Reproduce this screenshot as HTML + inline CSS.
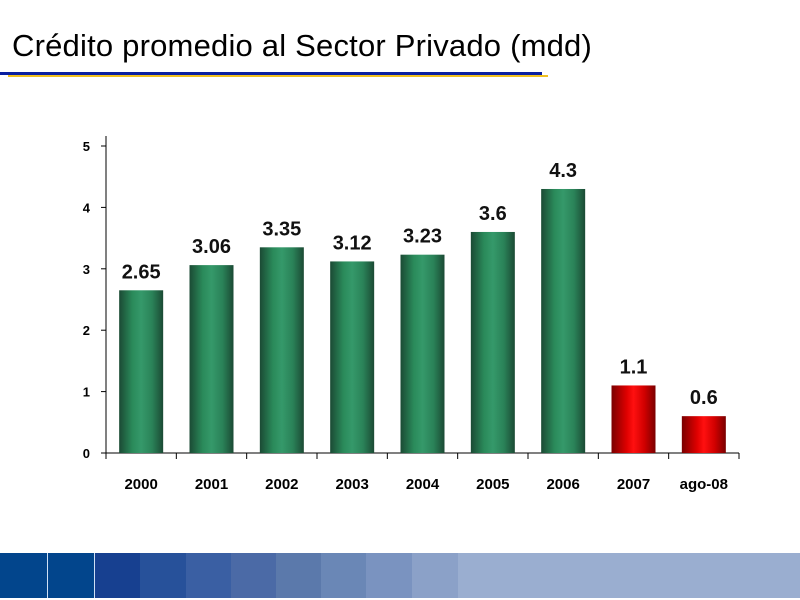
<!DOCTYPE html>
<html><head><meta charset="utf-8"><style>
body{margin:0;width:800px;height:600px;background:#fff;overflow:hidden;position:relative;font-family:"Liberation Sans",sans-serif}
#title{position:absolute;left:12px;top:28px;font-size:31px;color:#000;white-space:nowrap;letter-spacing:0.2px}
</style></head><body>
<div id="title">Crédito promedio al Sector Privado (mdd)</div>
<div style="position:absolute;left:0;top:72px;width:542px;height:3px;background:#0a1fa0"></div>
<div style="position:absolute;left:8px;top:75px;width:540px;height:2px;background:#f0c020"></div>
<svg id="chart" width="800" height="600" style="position:absolute;left:0;top:0">
<defs>
<linearGradient id="gg" x1="0" x2="1" y1="0" y2="0">
<stop offset="0" stop-color="#1b4a34"/><stop offset="0.3" stop-color="#2a8a5a"/><stop offset="0.5" stop-color="#35996a"/><stop offset="0.75" stop-color="#2a8258"/><stop offset="1" stop-color="#1b4a34"/>
</linearGradient>
<linearGradient id="gr" x1="0" x2="1" y1="0" y2="0">
<stop offset="0" stop-color="#7a0000"/><stop offset="0.35" stop-color="#e00000"/><stop offset="0.5" stop-color="#ff1010"/><stop offset="0.75" stop-color="#d00000"/><stop offset="1" stop-color="#7a0000"/>
</linearGradient>
</defs>
</svg>
<div id="band"></div>
<script>
const categories=["2000","2001","2002","2003","2004","2005","2006","2007","ago-08"];
const values=[2.65,3.06,3.35,3.12,3.23,3.6,4.3,1.1,0.6];
const valueLabels=["2.65","3.06","3.35","3.12","3.23","3.6","4.3","1.1","0.6"];
const highlight=[false,false,false,false,false,false,false,true,true];
const yTicks=[0,1,2,3,4,5];
const NS="http://www.w3.org/2000/svg";
const svg=document.getElementById('chart');
const x0=106,x1=739,y0=453,yTop=146,yMax=5;
const bw=(x1-x0)/categories.length;
const y=v=>y0-(v/yMax)*(y0-yTop);
const xc=i=>x0+bw*(i+0.5);
function mk(t,a){const e=document.createElementNS(NS,t);for(const k in a)e.setAttribute(k,a[k]);svg.appendChild(e);return e;}
let ax=mk('line',{x1:x0,x2:x0,y1:136,y2:y0,stroke:'#000','stroke-width':1});


let xa=mk('line',{x1:x0,x2:x1,y1:y0,y2:y0,stroke:'#000','stroke-width':1});


yTicks.forEach(t=>{
 mk('line',{x1:x0-5,x2:x0,y1:y(t),y2:y(t),stroke:'#000'});
 const tx=mk('text',{x:x0-16,y:y(t)+5,'text-anchor':'end','font-size':13,'font-weight':'bold','font-family':'Liberation Sans'});
 tx.textContent=t;
 
 
});
for(let i=0;i<=categories.length;i++){mk('line',{x1:x0+bw*i,x2:x0+bw*i,y1:y0,y2:y0+6,stroke:'#000'});}
categories.forEach((c,i)=>{
 const b=mk('rect',{x:xc(i)-22,y:y(values[i]),width:44,height:y0-y(values[i]),fill:highlight[i]?'url(#gr)':'url(#gg)'});
 
 
 const vl=mk('text',{x:xc(i),y:y(values[i])-12,'text-anchor':'middle','font-size':20,'font-weight':'bold','font-family':'Liberation Sans',fill:'#111'});
 vl.textContent=valueLabels[i];
 
 
 const cl=mk('text',{x:xc(i),y:489,'text-anchor':'middle','font-size':15,'font-weight':'bold','font-family':'Liberation Sans'});
 cl.textContent=c;
 
 
});
const band=document.getElementById('band');
const cols=["#02458c","#02458c","#174090","#27519a","#3a5fa3","#4b6aa6","#5b79ab","#6a87b6","#7a93c0","#8ba1c8","#9aaed0"];
const edges=[0,47,94,140,186,231,276,321,366,412,458,800];
cols.forEach((c,i)=>{
 const d=document.createElement('div');
 
 
 d.style.cssText=`position:absolute;top:553px;height:45px;left:${edges[i]}px;width:${edges[i+1]-edges[i]}px;background:${c}`;
 document.body.appendChild(d);
});
[47,94].forEach(xp=>{const d=document.createElement('div');
 
 
 d.style.cssText=`position:absolute;top:553px;height:45px;left:${xp}px;width:1px;background:#cfe0f5`;document.body.appendChild(d);});
</script>
</body></html>
